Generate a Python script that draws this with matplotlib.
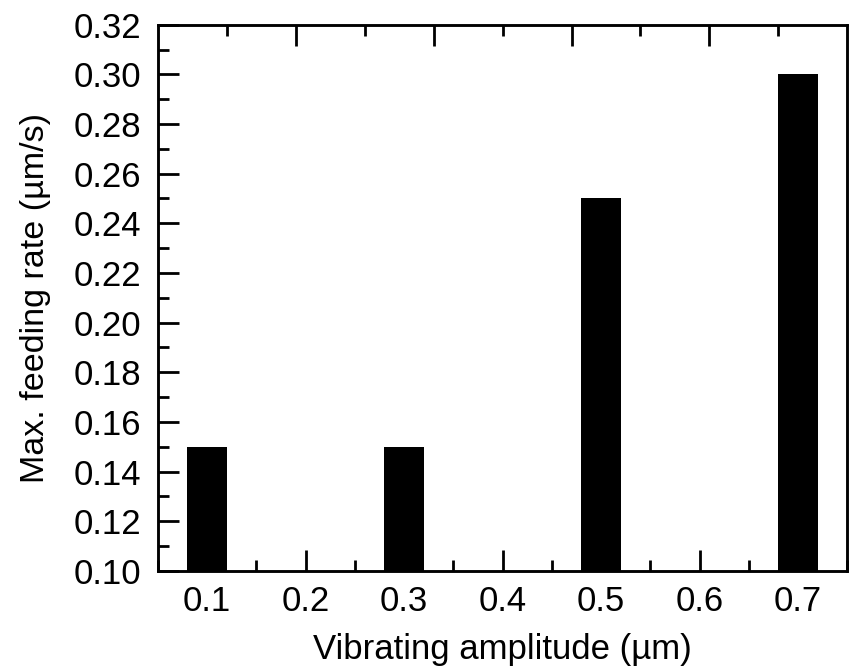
import matplotlib
matplotlib.use("Agg")
import matplotlib.pyplot as plt
from matplotlib.ticker import MultipleLocator, FixedLocator, NullFormatter

plt.rcParams['font.family'] = ['Liberation Sans', 'DejaVu Sans']

# Vibrating amplitude (um) vs. maximum feeding rate (um/s)
amplitudes = [0.1, 0.3, 0.5, 0.7]
feed_rates = [0.15, 0.15, 0.25, 0.30]
x_ticks = [0.1, 0.2, 0.3, 0.4, 0.5, 0.6, 0.7]
y_ticks = [0.10, 0.12, 0.14, 0.16, 0.18, 0.20, 0.22, 0.24, 0.26, 0.28, 0.30, 0.32]

fig = plt.figure(figsize=(8.49, 6.67), dpi=100)
ax = fig.add_axes([0.186, 0.144, 0.812, 0.819])

base = 0.10
ax.bar(amplitudes, [v - base for v in feed_rates], bottom=base, width=0.041,
       color='black', edgecolor='black', linewidth=0, zorder=3)

ax.set_xlim(0.05, 0.75)
ax.set_ylim(0.10, 0.32)

ax.xaxis.set_major_locator(FixedLocator(x_ticks))
ax.xaxis.set_minor_locator(MultipleLocator(0.05))
ax.yaxis.set_major_locator(FixedLocator(y_ticks))
ax.yaxis.set_minor_locator(MultipleLocator(0.01))
ax.set_xticklabels([f"{v:.1f}" for v in x_ticks])
ax.set_yticklabels([f"{v:.2f}" for v in y_ticks])

ax.tick_params(axis='both', which='both', direction='in', width=2,
               top=False, right=False, colors='black')
ax.tick_params(axis='x', which='major', length=15, pad=10, labelsize=25)
ax.tick_params(axis='y', which='major', length=15, pad=12, labelsize=25)
ax.tick_params(axis='both', which='minor', length=8)

for s in ax.spines.values():
    s.set_linewidth(1.8)

ax.set_xlabel("Vibrating amplitude (µm)", fontsize=25, labelpad=11)
ax.set_ylabel("Max. feeding rate (µm/s)", fontsize=24.5, labelpad=16)

# top axis: unlabeled inward ticks
top = ax.twiny()
top.set_xlim(0, 1)
top.xaxis.set_major_locator(FixedLocator([0.2, 0.4, 0.6, 0.8]))
top.xaxis.set_minor_locator(FixedLocator([0.1, 0.3, 0.5, 0.7, 0.9]))
top.xaxis.set_major_formatter(NullFormatter())
top.tick_params(axis='x', which='both', direction='in', width=2, labeltop=False)
top.tick_params(axis='x', which='major', length=15)
top.tick_params(axis='x', which='minor', length=8)
for s in top.spines.values():
    s.set_linewidth(1.8)

fig.savefig("out.png", dpi=100, facecolor='white')
